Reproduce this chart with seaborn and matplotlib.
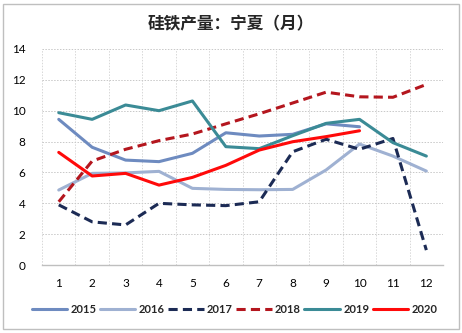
import matplotlib
matplotlib.use("Agg")
import matplotlib.pyplot as plt
import seaborn as sns
import pandas as pd
import numpy as np
from matplotlib.patches import Rectangle

months = list(range(1, 13))
y2015 = [9.44, 7.63, 6.8, 6.7, 7.24, 8.57, 8.36, 8.47, 9.15, 8.96]
y2016 = [4.86, 5.94, 5.97, 6.07, 4.97, 4.9, 4.88, 4.9, 6.16, 7.84, 7.06, 6.09]
y2017 = [3.9, 2.8, 2.6, 4.0, 3.9, 3.85, 4.1, 7.34, 8.15, 7.5, 8.2, 0.97]
y2018 = [4.1, 6.74, 7.5, 8.06, 8.49, 9.15, 9.8, 10.5, 11.2, 10.9, 10.87, 11.7]
y2019 = [9.87, 9.44, 10.37, 10.0, 10.63, 7.67, 7.54, 8.38, 9.18, 9.44, 7.93, 7.06]
y2020 = [7.3, 5.77, 5.94, 5.18, 5.68, 6.46, 7.45, 7.99, 8.32, 8.7]

series = {"2015": y2015, "2016": y2016, "2017": y2017,
          "2018": y2018, "2019": y2019, "2020": y2020}
rows = []
for yr, vals in series.items():
    for m, v in zip(months, vals):
        rows.append({"月": m, "产量": v, "年份": yr})
df = pd.DataFrame(rows)

sns.set_theme(style="white")
plt.rcParams['font.family'] = ['Lato', 'Noto Sans CJK SC', 'DejaVu Sans']

palette = {"2015": "#6e8bc0", "2016": "#9fb1d2", "2017": "#1c2b55",
           "2018": "#b4161e", "2019": "#3b8b96", "2020": "#ff0a0a"}
dashes = {"2015": "", "2016": "", "2017": (3, 1.7), "2018": (3, 1.7),
          "2019": "", "2020": ""}

fig = plt.figure(figsize=(4.62, 3.33), dpi=100)
ax = fig.add_axes([0.091, 0.204, 0.868, 0.649])

sns.lineplot(data=df, x="月", y="产量", hue="年份", style="年份",
             palette=palette, dashes=dashes, linewidth=2.2, ax=ax,
             legend=True, sort=False)

ax.set_xlim(0.5, 12.5)
ax.set_ylim(0, 14)
ax.set_xticks(months)
ax.set_xticklabels([str(m) for m in months])
ax.set_yticks(range(0, 15, 2))
ax.set_xticks(np.arange(0.5, 12.6, 1), minor=True)
ax.grid(True, which="major", axis="y", color="#c8c8c8", linestyle=(0, (1.5, 1.5)), linewidth=0.7)
ax.grid(True, which="minor", axis="x", color="#d8d8d8", linestyle=(0, (1.5, 1.5)), linewidth=0.7)
ax.grid(False, which="major", axis="x")
ax.tick_params(axis="both", which="both", length=0, labelsize=8.5, colors="#000000")
ax.tick_params(axis="x", pad=9)
ax.tick_params(axis="y", pad=12)
ax.set_xlabel("")
ax.set_ylabel("")
for s in ["top", "right", "left"]:
    ax.spines[s].set_visible(False)
ax.spines["bottom"].set_color("#bfbfbf")
ax.spines["bottom"].set_linewidth(1.0)

handles, labels = ax.get_legend_handles_labels()
ax.legend(handles, labels, loc="center", bbox_to_anchor=(0.48, -0.205),
          ncol=6, frameon=False, handlelength=3.2,
          handletextpad=0.3, columnspacing=0.3, prop={"weight": "bold", "size": 8})

fig.text(0.5, 0.928, "硅铁产量：宁夏（月）", ha="center", va="center",
         fontsize=12, fontweight="bold", family=['Noto Sans CJK SC', 'DejaVu Sans'])

fig.patches.append(Rectangle((0.006, 0.012), 0.988, 0.976, transform=fig.transFigure,
                             fill=False, edgecolor="#bfbfbf", linewidth=1.0))

fig.savefig("out.png", dpi=100)
